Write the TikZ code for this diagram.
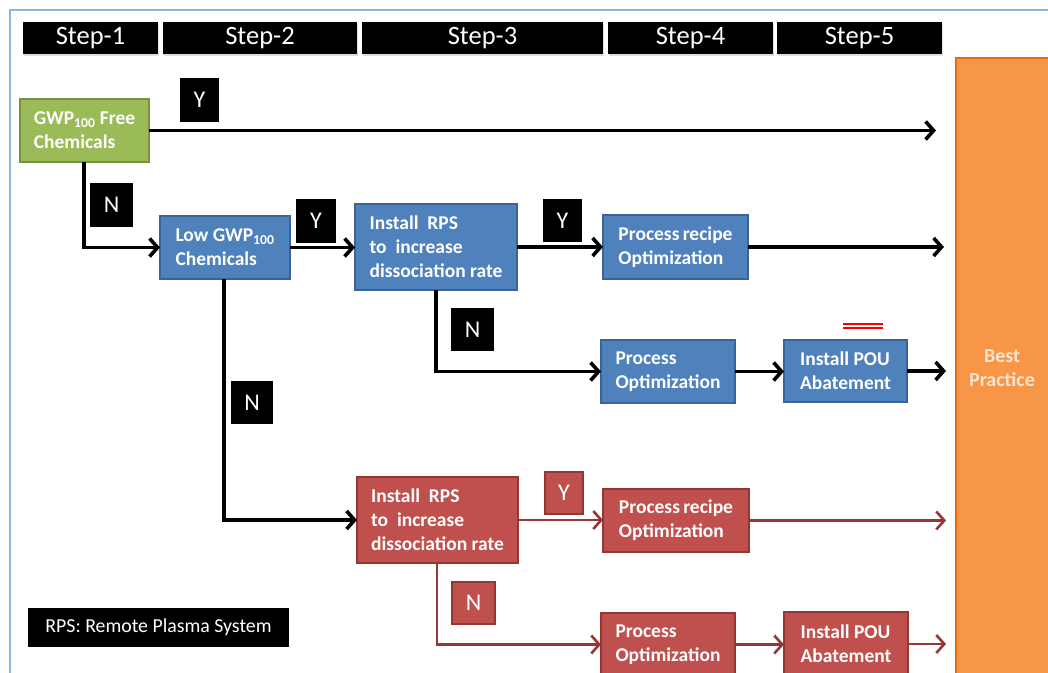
\documentclass[tikz,border=0pt]{standalone}
\usepackage{fontspec}
\setmainfont{Carlito}
\usetikzlibrary{arrows.meta,shadows}
\definecolor{bluefill}{HTML}{4F81BD}
\definecolor{blueborder}{HTML}{3A6496}
\definecolor{redfill}{HTML}{C0504D}
\definecolor{redborder}{HTML}{943634}
\definecolor{greenfill}{HTML}{9BBB59}
\definecolor{greenborder}{HTML}{77933C}
\definecolor{orangefill}{HTML}{F79646}
\definecolor{orangeborder}{HTML}{E46C0A}
\definecolor{redline}{HTML}{953735}
\definecolor{palepeach}{HTML}{FCE4D0}
\definecolor{framec}{HTML}{95B3D7}
\newcommand\mkbox[7]{\node[#1,anchor=north west,minimum width={#5-#3},minimum height={#6-#4}] (#2) at (#3,#4) {#7};}
\tikzset{
  base/.style={inner sep=0pt,outer sep=0pt,text=white,line width=1.5pt},
  header/.style={base,fill=black,font=\fontsize{26.5}{30}\selectfont,
     drop shadow={shadow xshift=1pt,shadow yshift=-2pt,opacity=0.25}},
  flowtext/.style={align=left,font=\fontsize{19.5}{24}\selectfont\bfseries},
  greenbox/.style={base,flowtext,fill=greenfill,draw=greenborder},
  bluebox/.style={base,flowtext,fill=bluefill,draw=blueborder},
  redbox/.style={base,flowtext,fill=redfill,draw=redborder},
  yn/.style={base,fill=black,font=\fontsize{24}{28}\selectfont},
  ynred/.style={base,fill=redfill,draw=redborder,font=\fontsize{24}{28}\selectfont},
  arr/.style={draw=black,line width=3.6pt,-{Straight Barb[length=8pt,width=18pt]}},
  rarr/.style={draw=redline,line width=2.6pt,-{Straight Barb[length=8pt,width=18pt]}},
  legend/.style={base,fill=black,font=\fontsize{19.8}{22}\selectfont},
}
\begin{document}
\begin{tikzpicture}[x=1pt,y=-1pt]
\clip (0,0) rectangle (1048,672);
\fill[white] (0,0) rectangle (1048,672);
% frame
\draw[framec,line width=1.5pt] (10,700) -- (10,10) -- (1060,10);
% step headers
\mkbox{header}{s1}{23}{22}{158}{54}{Step-1}
\mkbox{header}{s2}{163}{22}{357}{54}{Step-2}
\mkbox{header}{s3}{362}{22}{603}{54}{Step-3}
\mkbox{header}{s4}{608}{22}{773}{54}{Step-4}
\mkbox{header}{s5}{777}{22}{942}{54}{Step-5}
% best practice
\node[base,anchor=north west,fill=orangefill,draw=orangeborder,minimum width=120,minimum height=640] (best) at (956,58) {};
\node[base,text=palepeach,align=center,font=\fontsize{20}{24}\selectfont\bfseries] (bestt) at (1002,368) {Best\\Practice};
% flow boxes
\mkbox{greenbox}{green}{20}{99}{149}{162}{GWP\textsubscript{100} Free\\Chemicals}
\mkbox{bluebox}{lowgwp}{160}{216}{290}{279}{Low GWP\textsubscript{100}\\Chemicals}
\mkbox{bluebox}{rps1}{355}{204}{517}{290}{Install~~RPS\\to~~increase\\dissociation rate}
\mkbox{bluebox}{recipe1}{603}{215}{748}{279}{Process\,recipe\\Optimization}
\mkbox{bluebox}{popt1}{601}{340}{735}{403}{Process\\Optimization}
\mkbox{bluebox}{pou1}{784}{340}{907}{402}{Install POU\\Abatement}
\mkbox{redbox}{rps2}{357}{477}{518}{563}{Install~~RPS\\to~~increase\\dissociation rate}
\mkbox{redbox}{recipe2}{603}{489}{749}{552}{Process\,recipe\\Optimization}
\mkbox{redbox}{popt2}{601}{613}{735}{676}{Process\\Optimization}
\mkbox{redbox}{pou2}{784}{612}{908}{676}{Install POU\\Abatement}
% Y / N labels
\mkbox{yn}{y1}{180}{78}{219}{122}{Y}
\mkbox{yn}{n1}{90}{183}{133}{227}{N}
\mkbox{yn}{y2}{296}{199}{336}{243}{Y}
\mkbox{yn}{y3}{543}{199}{582}{242}{Y}
\mkbox{yn}{n2}{451}{308}{494}{351}{N}
\mkbox{yn}{n3}{231}{381}{273}{424}{N}
\mkbox{ynred}{y4}{545}{472}{583}{514}{Y}
\mkbox{ynred}{n4}{452}{582}{495}{624}{N}
% legend
\mkbox{legend}{leg}{28}{608}{289}{647}{RPS: Remote Plasma System}
% free ends
\coordinate (e1) at (936,128);
\coordinate (e2) at (944,247);
\coordinate (e3) at (946,371);
\coordinate (e4) at (946,520);
\coordinate (e5) at (946,644);
% black connectors
\draw[arr] (green.east) -- (green.east -| e1);
\draw[arr] ([xshift=64pt]green.south west) |- (lowgwp.west);
\draw[arr] (lowgwp.east) -- (lowgwp.east -| rps1.west);
\draw[arr] (rps1.east) -- (rps1.east -| recipe1.west);
\draw[arr] (recipe1.east) -- (recipe1.east -| e2);
\draw[arr] ([xshift=81pt]rps1.south west) |- (popt1.west);
\draw[arr] (popt1.east) -- (popt1.east -| pou1.west);
\draw[arr] (pou1.east) -- (pou1.east -| e3);
\draw[arr] ([xshift=64pt]lowgwp.south west) |- (rps2.west);
% red connectors
\draw[rarr] (rps2.east) -- (rps2.east -| recipe2.west);
\draw[rarr] (recipe2.east) -- (recipe2.east -| e4);
\draw[rarr] ([xshift=80pt]rps2.south west) |- (popt2.west);
\draw[rarr] (popt2.east) -- (popt2.east -| pou2.west);
\draw[rarr] (pou2.east) -- (pou2.east -| e5);
% red double mark
\draw[red,line width=2pt] (843,324) -- (883,324) (843,328) -- (883,328);
\end{tikzpicture}
\end{document}
